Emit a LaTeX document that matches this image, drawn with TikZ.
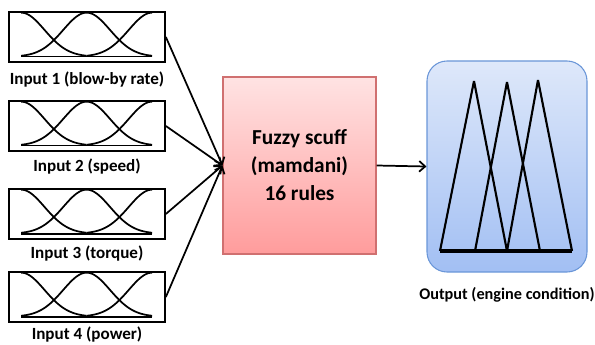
\documentclass[tikz,border=0pt]{standalone}
\usepackage{fontspec}
\setmainfont{Carlito}
\usepackage{tikz}
\usetikzlibrary{positioning, arrows.meta}
\definecolor{fzTop}{HTML}{FFE3E3}
\definecolor{fzBot}{HTML}{FF9C9C}
\definecolor{fzLine}{HTML}{D07070}
\definecolor{outTop}{HTML}{DEE8FA}
\definecolor{outBot}{HTML}{A2BFF3}
\definecolor{outLine}{HTML}{6A96D8}

\begin{document}
\begin{tikzpicture}[x=0.75pt, y=-0.75pt, line width=1.3pt,
>={Straight Barb[length=4.5pt, width=8pt]},
inbox/.style = {draw, rectangle, minimum width=117pt, minimum height=37.5pt, inner sep=0pt},
inlabel/.style = {font=\fontsize{12.8}{14}\selectfont\bfseries},
outlabel/.style = {font=\fontsize{12.2}{14}\selectfont\bfseries},
fuzzybox/.style = {rectangle, draw=fzLine, line width=0.8pt, top color=fzTop, bottom color=fzBot,
  minimum width=114.75pt, minimum height=132.75pt, inner sep=0pt, align=center,
  font=\fontsize{16}{21}\selectfont\bfseries},
outbox/.style = {rectangle, rounded corners=15pt, draw=outLine, line width=0.8pt,
  top color=outTop, bottom color=outBot, minimum width=120pt, minimum height=158.25pt}]
\useasboundingbox (0,0) rectangle (595,345);

% inputs with three membership curves each
\foreach \i/\yc/\gap/\txt in {1/37/2.5pt/Input 1 (blow-by rate), 2/126/1.5pt/Input 2 (speed),
    3/214/0.5pt/Input 3 (torque), 4/297/-1pt/Input 4 (power)} {
  \node[inbox] (in\i) at (87,\yc) {};
  \node[inlabel, below=\gap of in\i] (lab\i) {\txt};
  \begin{scope}[shift={(in\i.north west)}]
    \draw plot[domain=13:78.5, samples=40] (\x, {45.5-44*exp(-((\x-13)/23.4)^2/2)});
    \draw plot[domain=13:144, samples=60] (\x, {45.5-44*exp(-((\x-78.5)/23.4)^2/2)});
    \draw plot[domain=78.5:144, samples=40] (\x, {45.5-44*exp(-((\x-144)/23.4)^2/2)});
    \draw (13,45.5) -- (144,45.5);
  \end{scope}
}

% rule block
\node[fuzzybox] (fz) at (299.5,165.5) {Fuzzy scuff\\(mamdani)\\16 rules};

% output block
\node[outbox] (out) at (507,166.5) {};
\node[outlabel, below=7pt of out] (outlab) {Output (engine condition)};
\draw[line width=1.6pt] (474,81) -- (440,251) (474,81) -- (507,251);
\draw[line width=1.6pt] (507,82) -- (475,251) (507,82) -- (540,251);
\draw[line width=1.6pt] (538,80) -- (507,251) (538,80) -- (572,251);
\draw[line width=2.4pt] (440,251) -- (572,251);

% connectors
\foreach \i in {1,...,4}
  \draw[->] (in\i.east) -- (fz.west);
\draw[->] (fz.east) -- (out.west);
\end{tikzpicture}
\end{document}
